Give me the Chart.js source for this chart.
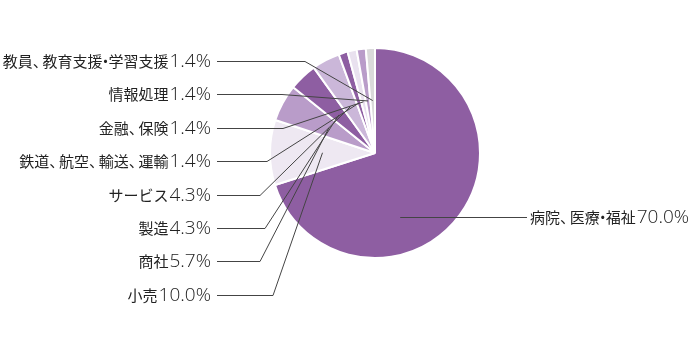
<!DOCTYPE html>
<html lang="ja">
<head>
<meta charset="utf-8">
<script src="https://cdn.jsdelivr.net/npm/chart.js@4.4.1/dist/chart.umd.min.js"></script>
<style>
  html, body { margin: 0; padding: 0; background: #fff; }
  #wrap { width: 700px; height: 355px; }
</style>
</head>
<body>
<div id="wrap"><canvas id="chart"></canvas></div>
<script>
// 業種別の割合 (%), 12時の位置から時計回り
const industries = [
    '病院、医療・福祉',
    '小売',
    '商社',
    '製造',
    'サービス',
    '鉄道、航空、輸送、運輸',
    '金融、保険',
    '情報処理',
    '教員、教育支援・学習支援'
];
const shares = [70.0, 10.0, 5.7, 4.3, 4.3, 1.4, 1.4, 1.4, 1.4];
const sliceColors = [
    '#8e5ea2', '#eee8f2', '#b99cc9', '#8e5ea2', '#cbb7d9',
    '#8e5ea2', '#e9e1ef', '#b99cc9', '#dadada'
];

const CJK_FONT = '15px "Noto Sans CJK JP"';
const NUM_FONT = '300 19px "Open Sans"';
const TEXT_COLOR = '#222';

function valueText(v) {
    return v.toFixed(1) + '%';
}

/**
 * Draw "name + value" with narrow Japanese punctuation
 */
function drawLabel(ctx, name, value, x, y, align) {
    const em = 15;
    ctx.font = CJK_FONT;
    const parts = [];
    let w = 0;
    for (const ch of name) {
        let adv = ctx.measureText(ch).width;
        let dx = 0;
        if (ch === '、') {
            adv = em * 0.65;
        } else if (ch === '・') {
            adv = em * 0.4;
            dx = -em * 0.3;
        }
        parts.push([ch, w + dx]);
        w += adv;
    }
    ctx.font = NUM_FONT;
    const nw = ctx.measureText(value).width;
    const gap = 1;
    const x0 = align === 'right' ? x - (w + gap + nw) : x;

    ctx.fillStyle = TEXT_COLOR;
    ctx.textAlign = 'left';
    ctx.textBaseline = 'middle';
    ctx.font = CJK_FONT;
    parts.forEach(([ch, px]) => ctx.fillText(ch, x0 + px, y));
    ctx.font = NUM_FONT;
    ctx.fillText(value, x0 + w + gap, y + 0.5);
}

// leader lines and labels
const leaderLabels = {
    id: 'leaderLabels',
    afterDraw(chart) {
        const ctx = chart.ctx;
        const arcs = chart.getDatasetMeta(0).data;
        ctx.save();
        ctx.strokeStyle = '#444';
        ctx.lineWidth = 1;

        // left column: top label is the last slice
        const top = 61;
        const step = 33.4;
        const textRight = 211;
        const lineStart = 217;
        const bends = [305, 282, 283, 267, 260, 265, 260, 273];
        for (let i = 0; i < arcs.length - 1; i++) {
            const idx = arcs.length - 1 - i;
            const arc = arcs[idx];
            const y = Math.round(top + i * step) + 0.5;
            const mid = (arc.startAngle + arc.endAngle) / 2;
            const ax = arc.x + Math.cos(mid) * arc.outerRadius * 0.5;
            const ay = arc.y + Math.sin(mid) * arc.outerRadius * 0.5;
            ctx.beginPath();
            ctx.moveTo(lineStart, y);
            ctx.lineTo(bends[i], y);
            ctx.lineTo(ax, ay);
            ctx.stroke();
            drawLabel(ctx, industries[idx], valueText(shares[idx]), textRight, y, 'right');
        }

        // right side: the large slice
        const big = arcs[0];
        const ry = Math.round(big.y + big.outerRadius * 0.61) + 0.5;
        ctx.beginPath();
        ctx.moveTo(big.x + big.outerRadius * 0.24, ry);
        ctx.lineTo(527, ry);
        ctx.stroke();
        drawLabel(ctx, industries[0], valueText(shares[0]), 530, ry, 'left');
        ctx.restore();
    }
};

document.addEventListener('DOMContentLoaded', function() {
    new Chart(document.getElementById('chart'), {
        type: 'pie',
        data: {
            labels: industries,
            datasets: [{
                data: shares,
                backgroundColor: sliceColors,
                borderColor: '#ffffff',
                borderWidth: 2,
                hoverBorderWidth: 2,
                hoverOffset: 0
            }]
        },
        options: {
            responsive: true,
            maintainAspectRatio: false,
            animation: false,
            events: [],
            layout: {
                padding: { left: 269, right: 219, top: 47, bottom: 96 }
            },
            plugins: {
                legend: { display: false },
                tooltip: { enabled: false }
            }
        },
        plugins: [leaderLabels]
    });
});
</script>
</body>
</html>
